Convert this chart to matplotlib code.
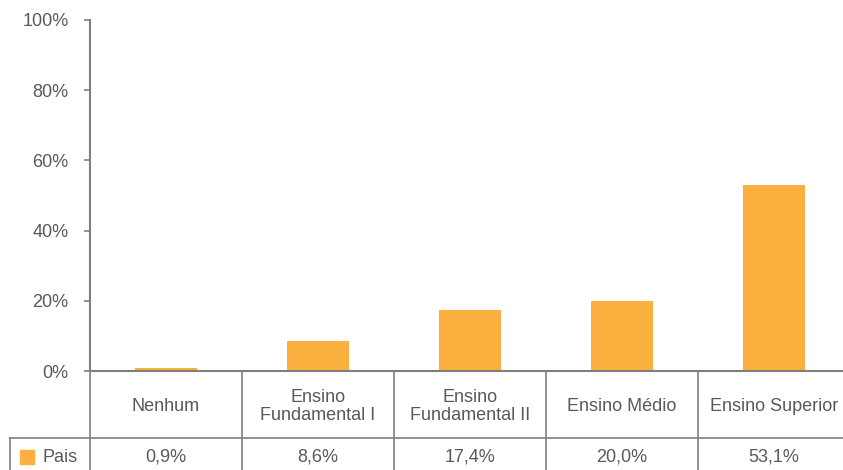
import matplotlib.pyplot as plt
import matplotlib.transforms as mtransforms
from matplotlib.patches import Rectangle

categories = ["Nenhum", "Ensino\nFundamental I", "Ensino\nFundamental II", "Ensino Médio", "Ensino Superior"]
values = [0.9, 8.6, 17.4, 20.0, 53.1]
value_labels = ["0,9%", "8,6%", "17,4%", "20,0%", "53,1%"]
series_name = "Pais"
yticks = [0, 20, 40, 60, 80, 100]
ytick_labels = ["0%", "20%", "40%", "60%", "80%", "100%"]

plt.rcParams['font.family'] = ['Liberation Sans', 'DejaVu Sans']
W, H = 843, 470
fig = plt.figure(figsize=(W / 100, H / 100), dpi=100)
x0, x1 = 90, 850
y_top, y_zero = 20, 371
ax = fig.add_axes([x0 / W, (H - y_zero) / H, (x1 - x0) / W, (y_zero - y_top) / H])

bar_color = '#FBB040'
line_color = '#7f7f7f'
text_color = '#595959'
fs = 13

xs = list(range(len(categories)))
ax.bar(xs, values, width=0.41, color=bar_color, zorder=2)
ax.set_xlim(-0.5, len(categories) - 0.5)
ax.set_ylim(0, 100)
ax.set_yticks(yticks)
ax.set_yticklabels(ytick_labels, color=text_color, fontsize=fs)
ax.set_xticks([])
for s in ['top', 'right']:
    ax.spines[s].set_visible(False)
for s in ['left', 'bottom']:
    ax.spines[s].set_color(line_color)
    ax.spines[s].set_linewidth(1.5)
ax.tick_params(axis='y', length=4.5, width=1.2, color=line_color, pad=11)

trans = mtransforms.blended_transform_factory(ax.transData, fig.transFigure)
ftrans = fig.transFigure


def fy(py):
    return (H - py) / H


row_sep = 438
lw = 1.2
for b in [0.5, 1.5, 2.5, 3.5]:
    fig.add_artist(plt.Line2D([b, b], [fy(y_zero), fy(H + 2)], transform=trans, color=line_color, lw=lw))
fig.add_artist(plt.Line2D([x0 / W, x0 / W], [fy(y_zero), fy(H + 2)], transform=ftrans, color=line_color, lw=lw))
fig.add_artist(plt.Line2D([10 / W, 1.0], [fy(row_sep), fy(row_sep)], transform=ftrans, color=line_color, lw=lw))
fig.add_artist(plt.Line2D([10 / W, 10 / W], [fy(row_sep), fy(H + 2)], transform=ftrans, color=line_color, lw=lw))

for x, c in zip(xs, categories):
    fig.text(x, fy((y_zero + row_sep) / 2 + 2), c, transform=trans, ha='center', va='center',
             fontsize=fs, color=text_color, linespacing=1.1)
for x, v in zip(xs, value_labels):
    fig.text(x, fy(457), v, transform=trans, ha='center', va='center', fontsize=fs, color=text_color)

fig.add_artist(Rectangle((20 / W, fy(464)), 14 / W, 14 / H, transform=ftrans, color=bar_color))
fig.text(42 / W, fy(457), series_name, transform=ftrans, ha='left', va='center', fontsize=fs, color=text_color)

fig.savefig('out.png', dpi=100)
